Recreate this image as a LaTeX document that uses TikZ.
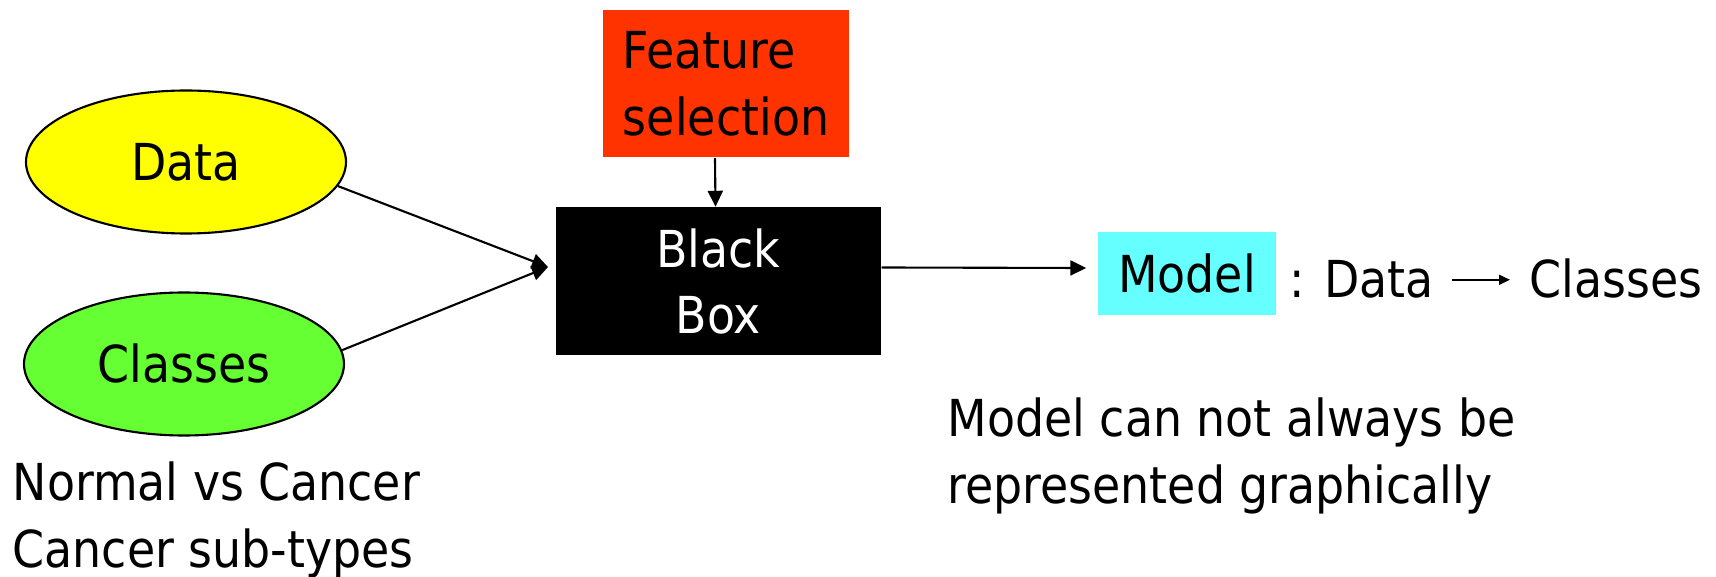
\documentclass[tikz,border=0pt]{standalone}
\usepackage{fontspec}
\setmainfont{DejaVu Sans Condensed}
\usetikzlibrary{shapes.geometric,arrows.meta}
\definecolor{datayellow}{HTML}{FFFF00}
\definecolor{classgreen}{HTML}{66FF33}
\definecolor{featred}{HTML}{FF3300}
\definecolor{modelcyan}{HTML}{66FFFF}

\begin{document}
\begin{tikzpicture}[
		font=\fontsize{14.5}{19}\selectfont,
		blob/.style={ellipse, draw, line width=0.6pt, minimum width=3.2cm, minimum height=1.43cm, inner sep=0pt},
		flat/.style={rectangle, inner sep=0pt, align=center},
		feed/.style={-{Triangle[length=0.16cm,width=0.15cm]}, line width=0.6pt},
		txt/.style={inner sep=0pt, align=left}]
	\useasboundingbox (0,0) rectangle (17.16,5.77);

	%%inputs
	\node[blob, fill=datayellow] (data) at (1.86, 4.15) {Data};
	\node[blob, fill=classgreen] (classes) at (1.84, 2.13) {Classes};
	\node[txt, anchor=north west] (kinds) at (0.12, 1.16) {Normal vs Cancer\\Cancer sub-types};

	%%the boxes
	\node[flat, fill=featred, minimum width=2.46cm, minimum height=1.47cm, align=left] (feat) at (7.26, 4.93) {Feature\\selection};
	\node[flat, fill=black, text=white, minimum width=3.25cm, minimum height=1.48cm] (box) at (7.185, 2.955) {Black\\Box};
	\node[flat, fill=modelcyan, minimum width=1.78cm, minimum height=0.83cm] (model) at (11.87, 3.03) {Model};

	%%what the model does
	\node[txt, anchor=base west] (dmap) at (12.89, 2.79) {: Data};
	\node[txt, anchor=base west] (cls) at (15.29, 2.79) {Classes};
	\node[txt, anchor=north west] (note) at (9.47, 1.80) {Model can not always be\\represented graphically};

	%%arrows
	\coordinate (join) at (5.48, 3.10);
	\draw[feed] (data.-9) -- (join);
	\draw[feed] (classes.5) -- (join);
	\draw[feed] ([xshift=-0.11cm]feat.south) -- ([xshift=-0.03cm]box.north);
	\draw[feed] ([yshift=0.14cm]box.east) -- ([xshift=-0.11cm, yshift=0.06cm]model.west);
	\draw[-{Triangle[length=0.11cm,width=0.1cm]}, line width=0.5pt, shorten <=0.17cm, shorten >=0.19cm] (dmap.east) -- (dmap.east -| cls.west);
\end{tikzpicture}
\end{document}
